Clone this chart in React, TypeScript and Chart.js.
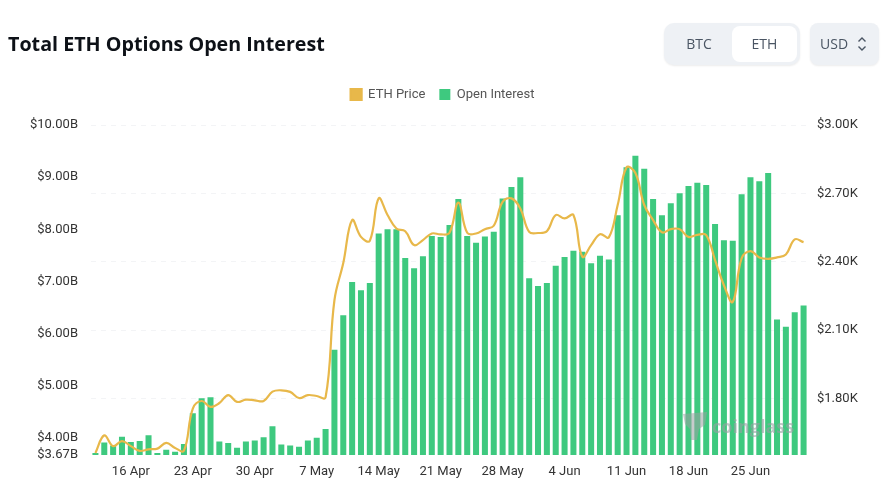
import { useEffect, useRef } from "react";
import { Chart, registerables } from "chart.js";

Chart.register(...registerables);

const dates = [
  "12 Apr", "13 Apr", "14 Apr", "15 Apr", "16 Apr", "17 Apr", "18 Apr", "19 Apr", "20 Apr", "21 Apr", "22 Apr",
  "23 Apr", "24 Apr", "25 Apr", "26 Apr", "27 Apr", "28 Apr", "29 Apr", "30 Apr", "1 May", "2 May", "3 May",
  "4 May", "5 May", "6 May", "7 May", "8 May", "9 May", "10 May", "11 May", "12 May", "13 May", "14 May", "15 May",
  "16 May", "17 May", "18 May", "19 May", "20 May", "21 May", "22 May", "23 May", "24 May", "25 May", "26 May",
  "27 May", "28 May", "29 May", "30 May", "31 May", "1 Jun", "2 Jun", "3 Jun", "4 Jun", "5 Jun", "6 Jun", "7 Jun",
  "8 Jun", "9 Jun", "10 Jun", "11 Jun", "12 Jun", "13 Jun", "14 Jun", "15 Jun", "16 Jun", "17 Jun", "18 Jun",
  "19 Jun", "20 Jun", "21 Jun", "22 Jun", "23 Jun", "24 Jun", "25 Jun", "26 Jun", "27 Jun", "28 Jun", "29 Jun",
  "30 Jun", "1 Jul",
];

// open interest, billions USD
const openInterest = [
  3.71, 3.91, 3.85, 4.02, 3.92, 3.94, 4.05, 3.71, 3.77, 3.73, 3.88,
  4.47, 4.76, 4.78, 3.93, 3.9, 3.81, 3.93, 3.95, 4.01, 4.22, 3.87,
  3.85, 3.83, 3.95, 4.0, 4.17, 5.69, 6.35, 6.99, 6.83, 6.97, 7.92, 8.0,
  8.0, 7.45, 7.25, 7.48, 7.87, 7.85, 8.08, 8.58, 7.87, 7.74, 7.86,
  7.95, 8.59, 8.81, 9.0, 7.06, 6.91, 6.97, 7.3, 7.47, 7.59, 7.57, 7.35,
  7.49, 7.42, 8.27, 9.19, 9.41, 9.16, 8.58, 8.27, 8.5, 8.69, 8.83,
  8.89, 8.85, 8.1, 7.79, 7.78, 8.67, 9.0, 8.92, 9.08, 6.27, 6.13,
  6.41, 6.54,
];

// ETH price, USD
const ethPrice = [
  1561, 1638, 1591, 1613, 1591, 1570, 1577, 1580, 1605, 1583, 1571,
  1756, 1789, 1763, 1780, 1815, 1785, 1795, 1792, 1789, 1830, 1836,
  1829, 1802, 1815, 1811, 1805, 2231, 2394, 2583, 2509, 2492, 2678, 2605,
  2546, 2534, 2473, 2495, 2524, 2520, 2527, 2659, 2527, 2524, 2543,
  2558, 2663, 2678, 2634, 2531, 2526, 2534, 2605, 2590, 2605, 2422, 2473,
  2521, 2507, 2649, 2814, 2789, 2649, 2583, 2529, 2543, 2543, 2509,
  2518, 2517, 2407, 2297, 2224, 2415, 2447, 2419, 2413, 2419, 2432,
  2498, 2486,
];

const xTickLabels = ["16 Apr", "23 Apr", "30 Apr", "7 May", "14 May", "21 May", "28 May", "4 Jun", "11 Jun", "18 Jun", "25 Jun"];
const leftTicks = [3.67, 4, 5, 6, 7, 8, 9, 10];
const rightTicks = [1800, 2100, 2400, 2700, 3000];

const GREEN = "#3ec97f";
const GOLD = "#e8b84a";
const TICK_FONT = { family: "Roboto", size: 13 };

// leaves room under the legend without moving the legend itself
const legendGap = {
  id: "legendGap",
  beforeInit(chart: any) {
    const fit = chart.legend.fit;
    chart.legend.fit = function () {
      fit.call(this);
      this.height += 14;
    };
  },
};

export default function App() {
  const canvasRef = useRef<HTMLCanvasElement | null>(null);

  useEffect(() => {
    if (!canvasRef.current) return;
    const chart = new Chart(canvasRef.current, {
      type: "bar",
      plugins: [legendGap],
      data: {
        labels: dates,
        datasets: [
          {
            type: "line",
            label: "ETH Price",
            data: ethPrice,
            yAxisID: "yRight",
            borderColor: GOLD,
            backgroundColor: GOLD,
            borderWidth: 2.2,
            pointRadius: 0,
            tension: 0.4,
            order: 0,
          },
          {
            type: "bar",
            label: "Open Interest",
            data: openInterest,
            yAxisID: "yLeft",
            backgroundColor: GREEN,
            categoryPercentage: 1,
            barPercentage: 0.68,
            order: 1,
          },
        ],
      },
      options: {
        responsive: false,
        animation: false,
        layout: { padding: { top: 74, left: 0, right: 0, bottom: 0 } },
        plugins: {
          tooltip: { enabled: false },
          legend: {
            position: "top",
            labels: {
              boxWidth: 11,
              boxHeight: 11,
              padding: 14,
              color: "#555",
              font: { family: "Roboto", size: 13 },
            },
          },
        },
        scales: {
          x: {
            grid: { display: false },
            border: { display: false },
            afterFit: (axis: any) => {
              axis.height = 23;
            },
            ticks: {
              autoSkip: false,
              maxRotation: 0,
              color: "#333",
              font: TICK_FONT,
              padding: 1,
              callback: (_v: any, i: number) => (xTickLabels.includes(dates[i]) ? dates[i] : null),
            },
          },
          yLeft: {
            position: "left",
            min: 3.67,
            max: 10,
            grid: { display: false },
            border: { display: false },
            afterFit: (axis: any) => {
              axis.width = 91;
            },
            afterBuildTicks: (axis: any) => {
              axis.ticks = leftTicks.map((value) => ({ value }));
            },
            ticks: {
              color: "#333",
              font: TICK_FONT,
              padding: 5,
              autoSkip: false,
              callback: (v: any) => "$" + Number(v).toFixed(2) + "B",
            },
          },
          yRight: {
            position: "right",
            min: 1552,
            max: 3000,
            border: { display: false, dash: [5, 5] },
            grid: { color: "#f3f4f6", lineWidth: 1, drawTicks: false },
            afterFit: (axis: any) => {
              axis.width = 77;
            },
            afterBuildTicks: (axis: any) => {
              axis.ticks = rightTicks.map((value) => ({ value }));
            },
            ticks: {
              color: "#333",
              font: TICK_FONT,
              padding: 9,
              autoSkip: false,
              callback: (v: any) => "$" + (Number(v) / 1000).toFixed(2) + "K",
            },
          },
        },
      },
    } as any);
    return () => chart.destroy();
  }, []);

  return (
    <div style={{ position: "fixed", left: 0, top: 0, width: 885, height: 478, background: "#fff", overflow: "hidden", fontFamily: "'Open Sans', sans-serif" }}>
      <canvas ref={canvasRef} width={885} height={478} style={{ position: "absolute", left: 0, top: 0 }} />
      <div style={{ position: "absolute", left: 8, top: 30, fontSize: 19.7, fontWeight: 700, color: "#0d1117", whiteSpace: "nowrap", lineHeight: "28px" }}>
        Total ETH Options Open Interest
      </div>

      {/* BTC / ETH switch */}
      <div style={{ position: "absolute", left: 664, top: 23, width: 136, height: 42, background: "#eef1f5", borderRadius: 10, boxShadow: "0 1px 2px rgba(0,0,0,0.08)" }}>
        <div style={{ position: "absolute", left: 2, top: 0, width: 66, height: 42, lineHeight: "42px", textAlign: "center", fontSize: 14, color: "#4a5563" }}>BTC</div>
        <div style={{ position: "absolute", left: 68, top: 3, width: 65, height: 36, lineHeight: "36px", textAlign: "center", fontSize: 14, color: "#4a5563", background: "#fff", borderRadius: 8 }}>ETH</div>
      </div>

      {/* currency select */}
      <div style={{ position: "absolute", left: 810, top: 23, width: 69, height: 42, background: "#eef1f5", borderRadius: 8, boxShadow: "0 1px 2px rgba(0,0,0,0.08)" }}>
        <div style={{ position: "absolute", left: 10, top: 0, lineHeight: "42px", fontSize: 14, color: "#4a5563" }}>USD</div>
        <svg width="12" height="16" viewBox="0 0 12 16" style={{ position: "absolute", left: 46, top: 13 }}>
          <path d="M2.5 5.5 L6 2 L9.5 5.5 M2.5 10.5 L6 14 L9.5 10.5" fill="none" stroke="#4a5563" strokeWidth="1.4" />
        </svg>
      </div>

      {/* watermark */}
      <svg width="26" height="30" viewBox="0 0 26 30" style={{ position: "absolute", left: 682, top: 411 }}>
        <path d="M1 3 L25 1 L23 14 L17 18 L15 29 L9 29 L8 18 L3 13 Z" fill="#9aa0a3" opacity="0.55" />
      </svg>
      <div style={{ position: "absolute", left: 712, top: 414, fontSize: 18, fontWeight: 700, color: "#9aa0a3", opacity: 0.6, lineHeight: "24px" }}>
        coinglass
      </div>
    </div>
  );
}
